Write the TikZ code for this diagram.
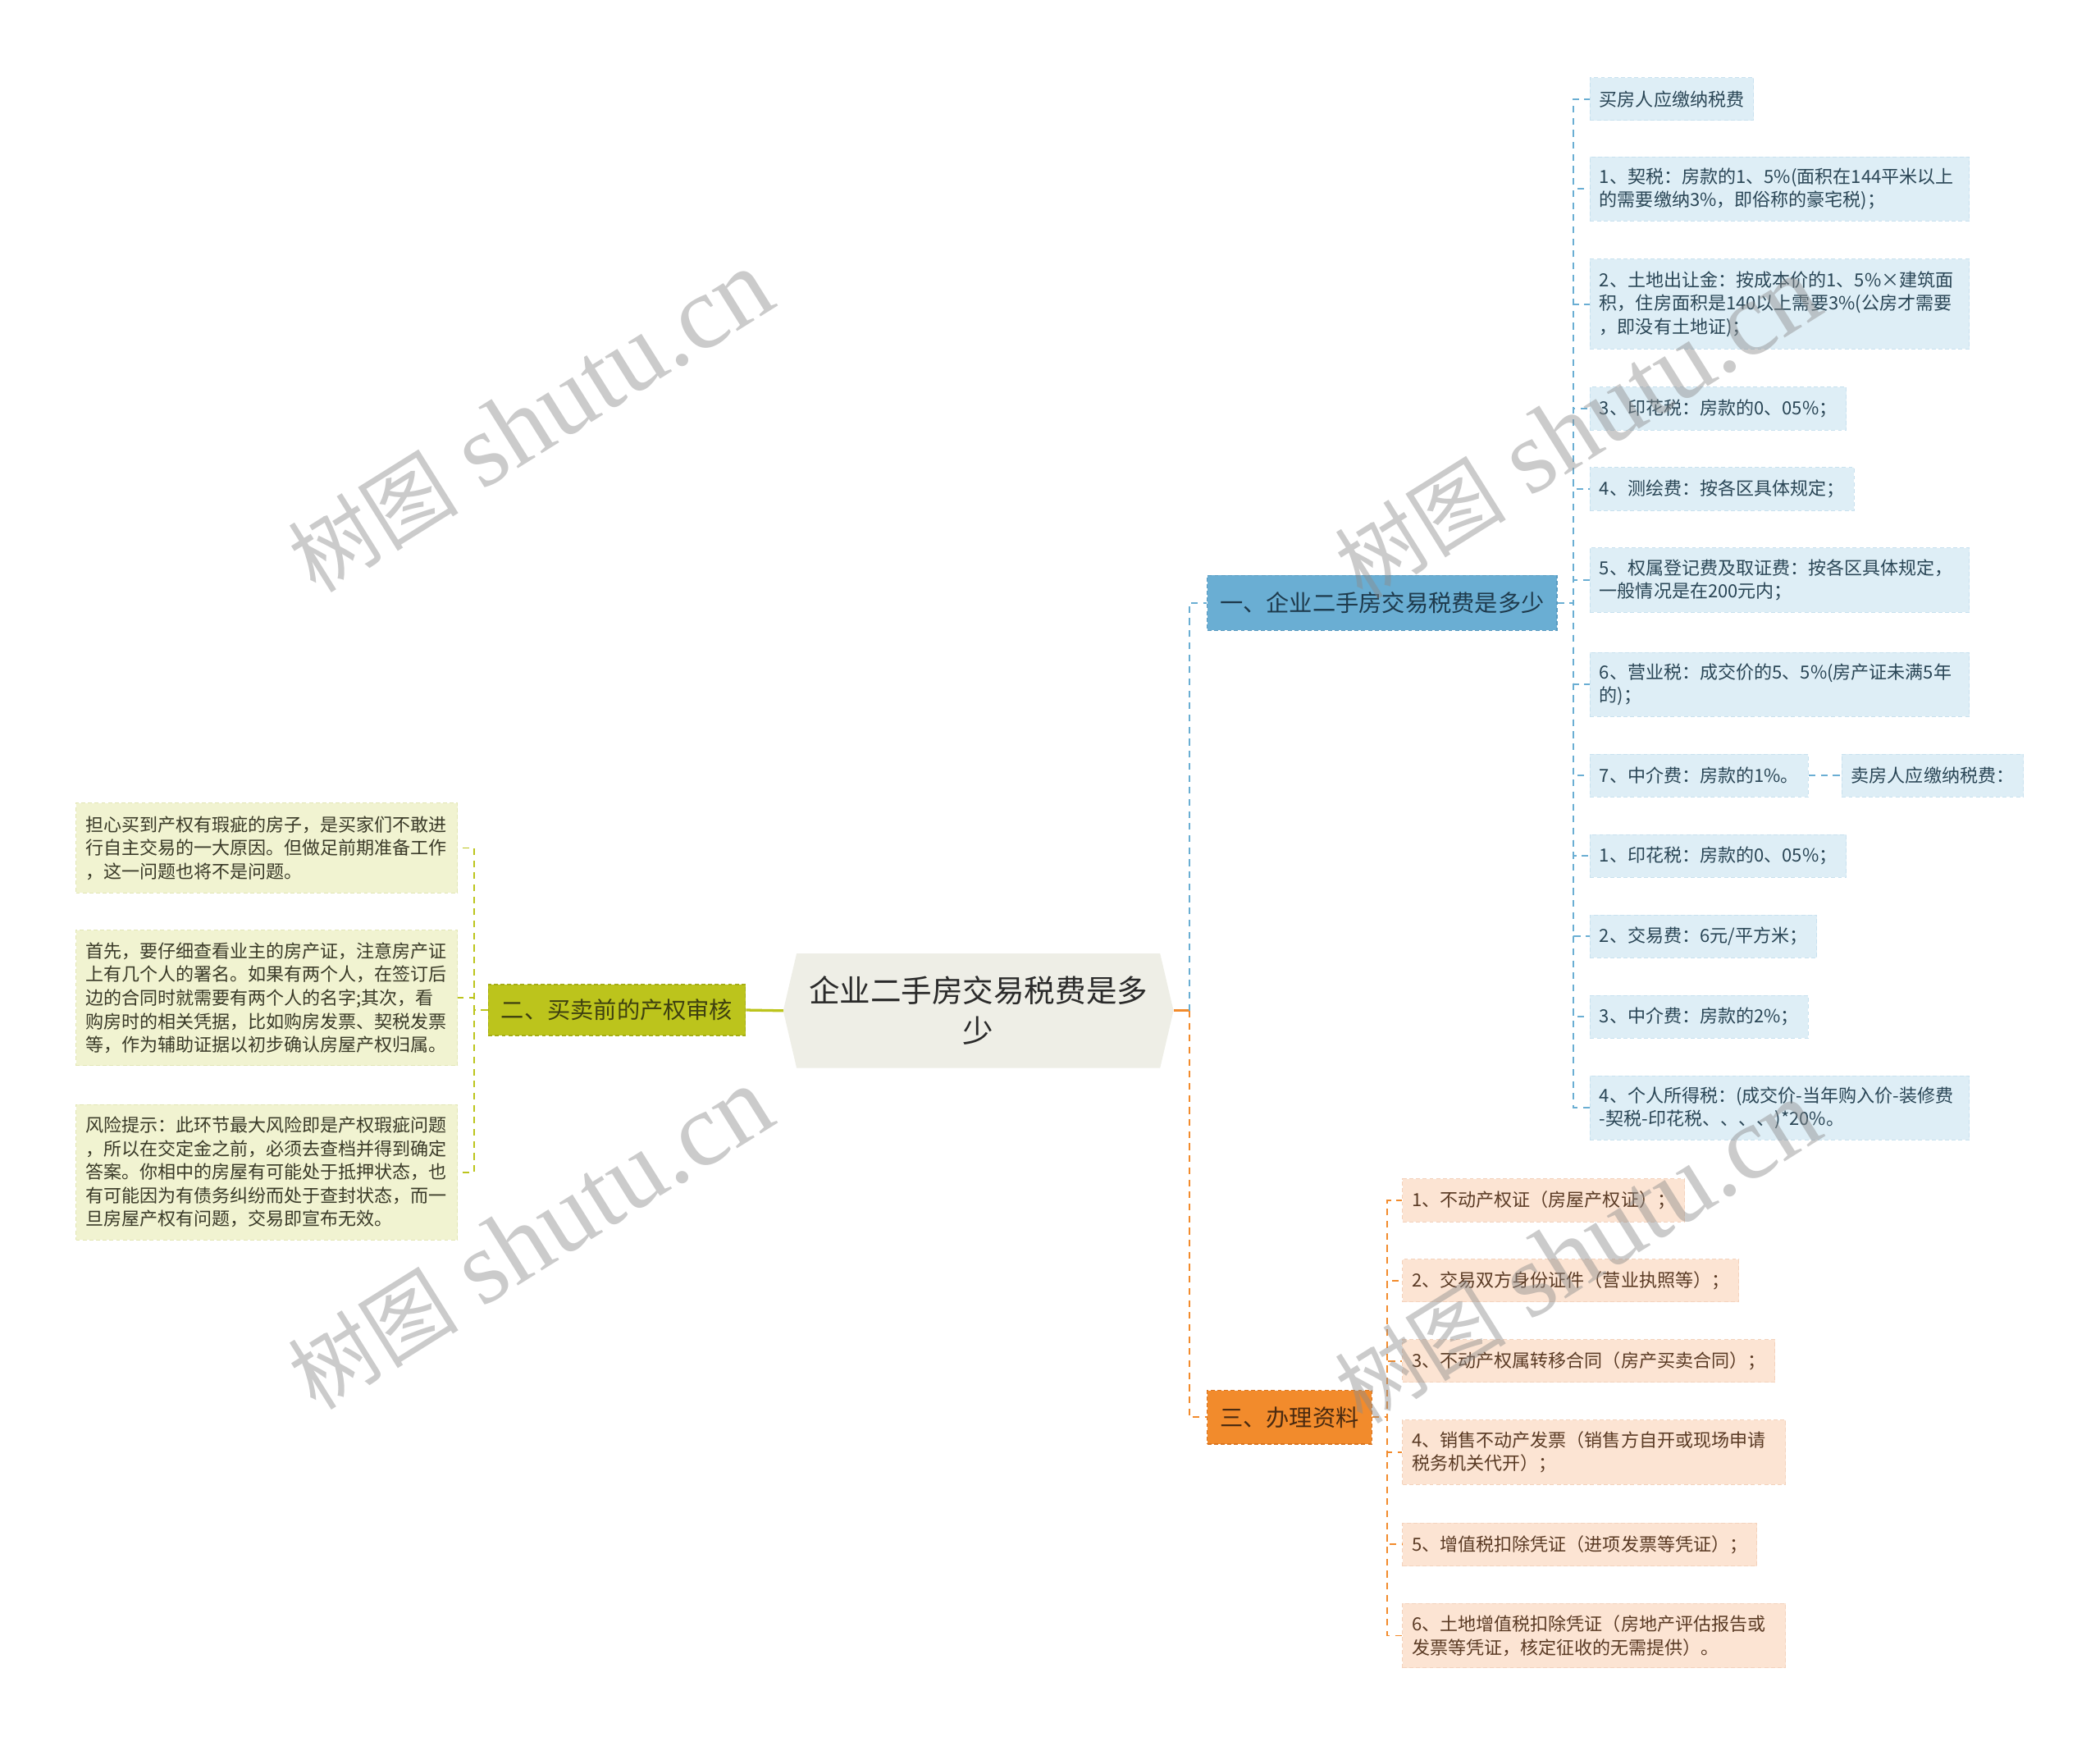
\documentclass[tikz,border=0pt]{standalone}
\usepackage{fontspec}
\setmainfont{Noto Sans CJK SC}
\newfontfamily\wmlat{Liberation Serif}
\usetikzlibrary{backgrounds}
\definecolor{bMain}{HTML}{6AAED3}
\definecolor{bMainB}{HTML}{5A9CC2}
\definecolor{bLeaf}{HTML}{DEEEF6}
\definecolor{bLeafB}{HTML}{C8E1EF}
\definecolor{bText}{HTML}{2A4656}
\definecolor{bHead}{HTML}{1E3A4C}
\definecolor{gMain}{HTML}{BCC41C}
\definecolor{gMainB}{HTML}{A6AE14}
\definecolor{gLeaf}{HTML}{F1F3D1}
\definecolor{gLeafB}{HTML}{E2E6B4}
\definecolor{gText}{HTML}{3A3A28}
\definecolor{gHead}{HTML}{3E4010}
\definecolor{oMain}{HTML}{F28B2C}
\definecolor{oMainB}{HTML}{DA7520}
\definecolor{oLeaf}{HTML}{FCE4D3}
\definecolor{oLeafB}{HTML}{F4D2BC}
\definecolor{oText}{HTML}{5A3A24}
\definecolor{oHead}{HTML}{4A2A10}
\definecolor{cFill}{HTML}{EEEEE6}
\definecolor{cText}{HTML}{2A2A2A}
\tikzset{
  leafbox/.style={inner xsep=7pt, inner ysep=0pt, font=\fontsize{13.5}{17.5}\selectfont, align=left, dashed, dash pattern=on 3pt off 2pt, line width=0.6pt},
  bleaf/.style={leafbox, anchor=west, fill=bLeaf, draw=bLeafB, text=bText},
  gleaf/.style={leafbox, anchor=east, fill=gLeaf, draw=gLeafB, text=gText},
  oleaf/.style={leafbox, anchor=west, fill=oLeaf, draw=oLeafB, text=oText},
  hone/.style={minimum height=32pt},
  htwo/.style={minimum height=48pt},
  hthree/.style={minimum height=67pt},
  hfive/.style={minimum height=101pt},
  branchbox/.style={inner xsep=9.5pt, inner ysep=0pt, font=\fontsize{17.3}{20}\selectfont, dashed, dash pattern=on 3pt off 2pt, line width=0.8pt},
  bline/.style={draw=bMain, line width=1.2pt, dashed, dash pattern=on 5pt off 4pt},
  gline/.style={draw=gMain, line width=1.2pt, dashed, dash pattern=on 5pt off 4pt},
  oline/.style={draw=oMain, line width=1.2pt, dashed, dash pattern=on 5pt off 4pt},
  wm/.style={text=black!45, opacity=0.45, rotate=32}
}
\begin{document}
\begin{tikzpicture}[x=1pt,y=-1pt]
\useasboundingbox (0,0) rectangle (1568,1303);

% central
\node[minimum width=291pt, minimum height=85pt, inner sep=0pt, align=center, text=cText,
      font=\fontsize{23}{30}\selectfont] (c) at (730.5,754.5) {企业二手房交易税费是多\\少};
\begin{scope}[on background layer]
\fill[white] (0,0) rectangle (1568,1303);
\fill[cFill] ([xshift=10pt]c.north west) -- ([xshift=-10pt]c.north east) -- (c.east)
  -- ([xshift=-10pt]c.south east) -- ([xshift=10pt]c.south west) -- (c.west) -- cycle;
\end{scope}

% branches
\node[branchbox, anchor=west, fill=bMain, draw=bMainB, text=bHead, minimum height=41pt] (b1) at (901,450) {一、企业二手房交易税费是多少};
\node[branchbox, anchor=east, fill=gMain, draw=gMainB, text=gHead, minimum height=38pt] (b2) at (557,754) {二、买卖前的产权审核};
\node[branchbox, anchor=west, fill=oMain, draw=oMainB, text=oHead, minimum height=40pt] (b3) at (901,1058) {三、办理资料};

% spine coordinates
\coordinate (sC) at (888,0);
\coordinate (sB) at (1175,0);
\coordinate (sO) at (1036,0);
\coordinate (sG) at (354,0);

% blue leaves
\node[bleaf, hone] (l0) at (1187,74) {买房人应缴纳税费};
\node[bleaf, htwo, text width=269pt] (l1) at (1187,141) {1、契税：房款的1、5\%(面积在144平米以上\\的需要缴纳3\%，即俗称的豪宅税)；};
\node[bleaf, hthree, text width=269pt] (l2) at (1187,227) {2、土地出让金：按成本价的1、5\%×建筑面\\积，住房面积是140以上需要3\%(公房才需要\\，即没有土地证)；};
\node[bleaf, hone] (l3) at (1187,305) {3、印花税：房款的0、05\%；};
\node[bleaf, hone] (l4) at (1187,365) {4、测绘费：按各区具体规定；};
\node[bleaf, htwo, text width=269pt] (l5) at (1187,433) {5、权属登记费及取证费：按各区具体规定，\\一般情况是在200元内；};
\node[bleaf, htwo, text width=269pt] (l6) at (1187,511) {6、营业税：成交价的5、5\%(房产证未满5年\\的)；};
\node[bleaf, hone] (l7) at (1187,579) {7、中介费：房款的1\%。};
\node[bleaf, hone] (l7a) at (1375,579) {卖房人应缴纳税费：};
\node[bleaf, hone] (l8) at (1187,639) {1、印花税：房款的0、05\%；};
\node[bleaf, hone] (l9) at (1187,699) {2、交易费：6元/平方米；};
\node[bleaf, hone] (l10) at (1187,759) {3、中介费：房款的2\%；};
\node[bleaf, htwo, text width=269pt] (l11) at (1187,827) {4、个人所得税：(成交价-当年购入价-装修费\\-契税-印花税、、、、)*20\%。};

% orange leaves
\node[oleaf, hone] (o1) at (1047,896) {1、不动产权证（房屋产权证）；};
\node[oleaf, hone] (o2) at (1047,956) {2、交易双方身份证件（营业执照等）；};
\node[oleaf, hone] (o3) at (1047,1016) {3、不动产权属转移合同（房产买卖合同）；};
\node[oleaf, htwo, text width=272pt] (o4) at (1047,1084) {4、销售不动产发票（销售方自开或现场申请\\税务机关代开）；};
\node[oleaf, hone] (o5) at (1047,1153) {5、增值税扣除凭证（进项发票等凭证）；};
\node[oleaf, htwo, text width=272pt] (o6) at (1047,1221) {6、土地增值税扣除凭证（房地产评估报告或\\发票等凭证，核定征收的无需提供）。};

% olive leaves
\node[gleaf, hthree, text width=271pt] (g1) at (342,633) {担心买到产权有瑕疵的房子，是买家们不敢进\\行自主交易的一大原因。但做足前期准备工作\\，这一问题也将不是问题。};
\node[gleaf, hfive, text width=271pt] (g2) at (342,745) {首先，要仔细查看业主的房产证，注意房产证\\上有几个人的署名。如果有两个人，在签订后\\边的合同时就需要有两个人的名字;其次，看\\购房时的相关凭据，比如购房发票、契税发票\\等，作为辅助证据以初步确认房屋产权归属。};
\node[gleaf, hfive, text width=271pt] (g3) at (342,875) {风险提示：此环节最大风险即是产权瑕疵问题\\，所以在交定金之前，必须去查档并得到确定\\答案。你相中的房屋有可能处于抵押状态，也\\有可能因为有债务纠纷而处于查封状态，而一\\旦房屋产权有问题，交易即宣布无效。};

% central connectors
\draw[gMain, line width=2pt] (c.west) -- (b2.east);
\draw[oMain, line width=2pt] (c.east) -- (c.east -| sC);
\draw[bline] (c.east -| sC) |- (b1.west);
\draw[oline] (c.east -| sC) |- (b3.west);

% blue connectors
\foreach \n in {l0,l1,l2,l3,l4,l5}
  \draw[bline] (b1.east) -- (b1.east -| sB) |- (\n.west);
\foreach \n in {l6,l7,l8,l9,l10,l11}
  \draw[bline] (b1.east) -- (b1.east -| sB) |- (\n.west);
\draw[bline] (l7.east) -- (l7a.west);

% orange connectors
\foreach \n in {o1,o2,o3,o4,o5,o6}
  \draw[oline] (b3.east) -- (b3.east -| sO) |- (\n.west);

% olive connectors
\foreach \n in {g1,g2,g3}
  \draw[gline] (b2.west) -- (b2.west -| sG) |- (\n.east);

% watermarks
\foreach \p/\q in {396/315, 1178/320, 396/925, 1178/935}
  \node[wm] at (\p,\q) {{\fontsize{64}{70}\selectfont 树图}\hspace{18pt}{\fontsize{78}{84}\wmlat shutu.cn}};
\end{tikzpicture}
\end{document}
